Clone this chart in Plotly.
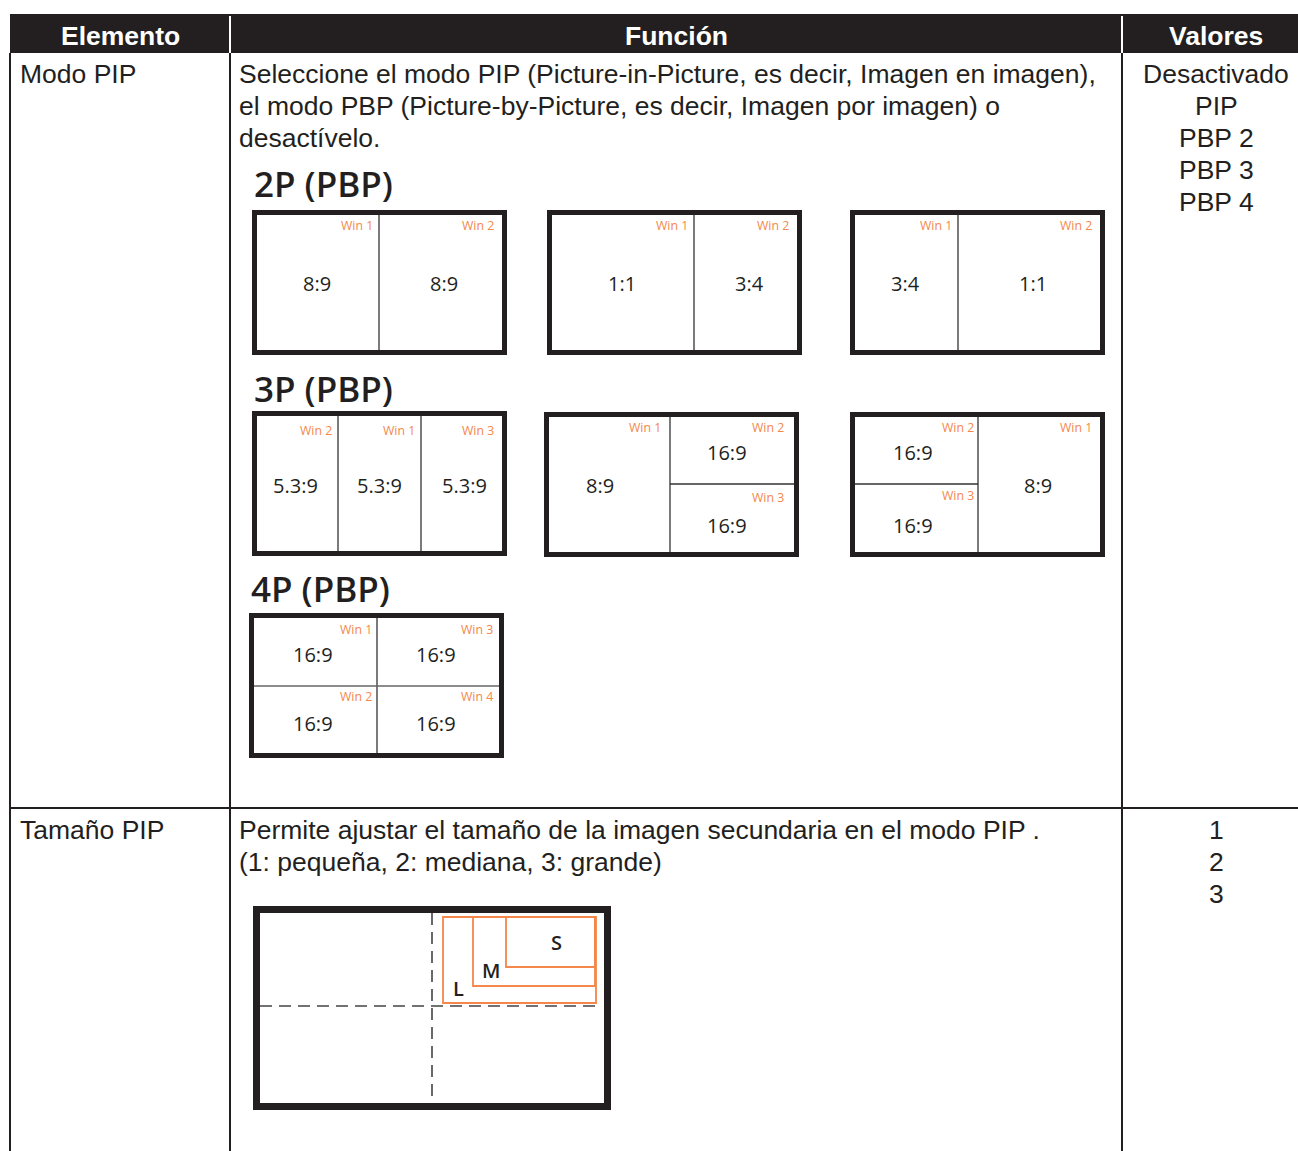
import plotly.graph_objects as go

# ---------------- data ----------------
headers = ["Elemento", "Función", "Valores"]
elementos = ["Modo PIP", "Tamaño PIP"]
funcion_modo = [
    "Seleccione el modo PIP (Picture-in-Picture, es decir, Imagen en imagen),",
    "el modo PBP (Picture-by-Picture, es decir, Imagen por imagen) o",
    "desactívelo.",
]
funcion_tamano = [
    "Permite ajustar el tamaño de la imagen secundaria en el modo PIP .",
    "(1: pequeña, 2: mediana, 3: grande)",
]
valores_modo = ["Desactivado", "PIP", "PBP 2", "PBP 3", "PBP 4"]
valores_tamano = ["1", "2", "3"]

titulos_pbp = ["2P (PBP)", "3P (PBP)", "4P (PBP)"]

# 2P diagrams: ratio labels and window names (left, right)
ratios_2p = [["8:9", "8:9"], ["1:1", "3:4"], ["3:4", "1:1"]]
wins_2p = [["Win 1", "Win 2"], ["Win 1", "Win 2"], ["Win 1", "Win 2"]]
# 3P diagram A: three columns
ratios_3p_a = ["5.3:9", "5.3:9", "5.3:9"]
wins_3p_a = ["Win 2", "Win 1", "Win 3"]
# 3P diagram B: big left + two stacked right
ratios_3p_b = ["8:9", "16:9", "16:9"]
wins_3p_b = ["Win 1", "Win 2", "Win 3"]
# 3P diagram C: two stacked left + big right
ratios_3p_c = ["16:9", "16:9", "8:9"]
wins_3p_c = ["Win 2", "Win 3", "Win 1"]
# 4P diagram: TL, TR, BL, BR
ratios_4p = ["16:9", "16:9", "16:9", "16:9"]
wins_4p = ["Win 1", "Win 3", "Win 2", "Win 4"]
# PIP sizes
tamanos_pip = ["S", "M", "L"]

# ---------------- styles ----------------
DARK = "#231f20"
ORANGE = "#f4874b"
BODY_FONT = "Liberation Sans, Arial, sans-serif"
DIAG_FONT = "Open Sans, Noto Sans, sans-serif"
W, H = 1298, 1151
BODY_SIZE = 26.5

shapes = []
ann = []


def line(x0, y0, x1, y1, color=DARK, width=2, dash=None):
    d = dict(color=color, width=width)
    if dash:
        d["dash"] = dash
    shapes.append(dict(type="line", xref="x", yref="y", x0=x0, y0=y0, x1=x1, y1=y1, line=d))


def rect(x0, y0, x1, y1, color=DARK, width=2, fill=None):
    s = dict(type="rect", xref="x", yref="y", x0=x0, y0=y0, x1=x1, y1=y1,
             line=dict(color=color, width=width))
    if fill:
        s["fillcolor"] = fill
    shapes.append(s)


def text(x, y, t, size=BODY_SIZE, color=DARK, family=BODY_FONT, xanchor="left", weight=None):
    f = dict(size=size, color=color, family=family)
    if weight:
        f["weight"] = weight
    ann.append(dict(x=x, y=y, xref="x", yref="y", text=t, showarrow=False,
                    xanchor=xanchor, yanchor="middle", font=f))


def box(x0, y0, x1, y1):
    rect(x0 + 2.5, y0 + 2.5, x1 - 2.5, y1 - 2.5, color=DARK, width=5)


def ratio(x, y, t):
    text(x, y, t, size=20, family=DIAG_FONT, xanchor="center")


def win(x_right, y, t):
    text(x_right, y, t, size=12.3, color=ORANGE, family=DIAG_FONT, xanchor="right")


# ---------------- table ----------------
X_L, X_C1, X_C2 = 10, 230, 1122
Y_HT, Y_HB, Y_ROW = 14, 53, 808
rect(X_L, Y_HT, W + 5, Y_HB, color=DARK, width=0, fill=DARK)
line(X_C1, Y_HT + 2, X_C1, Y_HB, color="white", width=2)
line(X_C2, Y_HT + 2, X_C2, Y_HB, color="white", width=2)
line(X_L, Y_HB, X_L, H + 5, width=2)
line(X_C1, Y_HB, X_C1, H + 5, width=2)
line(X_C2, Y_HB, X_C2, H + 5, width=2)
line(X_L, Y_ROW, W + 5, Y_ROW, width=2)

hdr_x = [(X_L + X_C1) / 2, (X_C1 + X_C2) / 2, 1216]
for hx, h in zip(hdr_x, headers):
    text(hx, 36, h, color="white", xanchor="center", weight="bold")

row_y = [74, 830]
for ry, e in zip(row_y, elementos):
    text(18, ry, e)
for i, t in enumerate(funcion_modo):
    text(237, 74 + 32 * i, t)
for i, t in enumerate(funcion_tamano):
    text(237, 830 + 32 * i, t)
for i, t in enumerate(valores_modo):
    text(1216, 74 + 32 * i, t, xanchor="center")
for i, t in enumerate(valores_tamano):
    text(1216, 830 + 32 * i, t, xanchor="center")

# ---------------- section titles ----------------
title_pos = [(252, 183), (252, 388), (249, 588)]
for (tx, ty), t in zip(title_pos, titulos_pbp):
    text(tx, ty, t, size=35, family=DIAG_FONT, weight=600)

# ---------------- 2P diagrams ----------------
boxes_2p = [(252, 507, 379), (547, 802, 694), (850, 1105, 958)]
for (x0, x1, xd), rt, wn in zip(boxes_2p, ratios_2p, wins_2p):
    y0, y1 = 210, 355
    line(xd, y0 + 4, xd, y1 - 4, color="#333333", width=1.3)
    box(x0, y0, x1, y1)
    ratio((x0 + xd) / 2 + 1, 283, rt[0])
    ratio((xd + x1) / 2 + 1, 283, rt[1])
    win(xd - 4, 225, wn[0])
    win(x1 - 11, 225, wn[1])

# ---------------- 3P diagrams ----------------
# A
x0, x1, y0, y1 = 252, 507, 411, 556
cols = [x0, 338, 421, x1]
line(338, y0 + 4, 338, y1 - 4, color="#333333", width=1.3)
line(421, y0 + 4, 421, y1 - 4, color="#333333", width=1.3)
box(x0, y0, x1, y1)
for i in range(3):
    ratio((cols[i] + cols[i + 1]) / 2, 485, ratios_3p_a[i])
    win(cols[i + 1] - 4 - (7 if i == 2 else 0), 430, wins_3p_a[i])

# B
x0, x1, y0, y1 = 544, 799, 412, 557
xd, yd = 670, 484
line(xd, y0 + 4, xd, y1 - 4, color="#333333", width=1.3)
line(xd, yd, x1 - 4, yd, color="#333333", width=1.3)
box(x0, y0, x1, y1)
ratio(600, 485, ratios_3p_b[0])
ratio(727, 452, ratios_3p_b[1])
ratio(727, 525, ratios_3p_b[2])
win(xd - 7, 427, wins_3p_b[0])
win(x1 - 13, 427, wins_3p_b[1])
win(x1 - 13, 497, wins_3p_b[2])

# C
x0, x1, y0, y1 = 850, 1105, 412, 557
xd, yd = 978, 484
line(xd, y0 + 4, xd, y1 - 4, color="#333333", width=1.3)
line(x0 + 4, yd, xd, yd, color="#333333", width=1.3)
box(x0, y0, x1, y1)
ratio(913, 452, ratios_3p_c[0])
ratio(913, 525, ratios_3p_c[1])
ratio(1038, 485, ratios_3p_c[2])
win(xd - 2, 427, wins_3p_c[0])
win(xd - 2, 495, wins_3p_c[1])
win(x1 - 11, 427, wins_3p_c[2])

# ---------------- 4P diagram ----------------
x0, x1, y0, y1 = 249, 504, 613, 758
xd, yd = 377, 686
line(xd, y0 + 4, xd, y1 - 4, color="#333333", width=1.3)
line(x0 + 4, yd, x1 - 4, yd, color="#666666", width=1.3)
box(x0, y0, x1, y1)
pos4 = [(313, 654), (436, 654), (313, 723), (436, 723)]
winpos4 = [(374, 629), (495, 629), (374, 696), (495, 696)]
for (px, py), t in zip(pos4, ratios_4p):
    ratio(px, py, t)
for (wx, wy), t in zip(winpos4, wins_4p):
    win(wx, wy, t)

# ---------------- PIP size diagram ----------------
x0, x1, y0, y1 = 253, 611, 906, 1110
line(432, y0 + 7, 432, y1 - 7, color="#444444", width=1.6, dash="12px,7px")
line(260, 1006, 602, 1006, color="#444444", width=1.6, dash="12px,7px")
pip_rects = [(443, 917, 596, 1003), (473, 917, 595, 986), (506, 917, 595, 967)]
for (rx0, ry0, rx1, ry1) in pip_rects:
    rect(rx0, ry0, rx1, ry1, color=ORANGE, width=1.8)
rect(x0 + 3.5, y0 + 3.5, x1 - 3.5, y1 - 3.5, color=DARK, width=7)
label_pos = [(556, 942), (491, 970), (458, 988)]
for (lx, ly), t in zip(label_pos, tamanos_pip):
    text(lx, ly, t, size=20, family=DIAG_FONT, xanchor="center", weight=600)

fig = go.Figure()
fig.update_layout(
    width=W, height=H,
    margin=dict(l=0, r=0, t=0, b=0),
    paper_bgcolor="white", plot_bgcolor="white",
    xaxis=dict(range=[0, W], visible=False, fixedrange=True),
    yaxis=dict(range=[H, 0], visible=False, fixedrange=True),
    shapes=shapes, annotations=ann, showlegend=False,
)
fig.write_html(
    "out.html",
    config={"displayModeBar": False, "staticPlot": True},
    post_script="document.body.style.margin='0';document.body.style.overflow='hidden';",
)
